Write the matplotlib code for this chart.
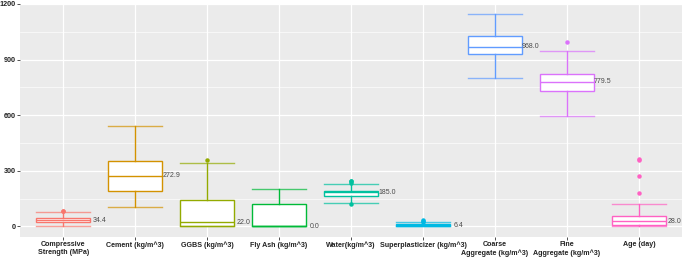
import matplotlib
matplotlib.use("Agg")
import matplotlib.pyplot as plt

categories = ["Compressive\nStrength (MPa)", "Cement (kg/m^3)", "GGBS (kg/m^3)",
              "Fly Ash (kg/m^3)", "Water(kg/m^3)", "Superplasticizer (kg/m^3)",
              "Coarse\nAggregate (kg/m^3)", "Fine\nAggregate (kg/m^3)", "Age (day)"]
whislo = [2.33, 102.0, 0.0, 0.0, 126.6, 0.0, 801.0, 594.0, 1.0]
q1 = [23.7, 192.4, 0.0, 0.0, 164.9, 0.0, 932.0, 730.95, 7.0]
med = [34.4, 272.9, 22.0, 0.0, 185.0, 6.4, 968.0, 779.5, 28.0]
q3 = [46.1, 350.0, 142.95, 118.3, 192.0, 10.2, 1029.4, 824.0, 56.0]
whishi = [80.0, 540.0, 342.1, 200.1, 228.0, 23.4, 1145.0, 945.0, 120.0]
fliers = [[81.8, 82.6], [], [359.4], [], [121.8, 236.7, 246.9, 247.0],
          [25.0, 28.2, 32.2], [], [992.6], [180.0, 270.0, 360.0, 365.0]]
colors = ["#F8766D", "#D39200", "#93AA00", "#00BA38", "#00C19F", "#00B9E3",
          "#619CFF", "#DB72FB", "#FF61C3"]
yticks = [0, 300, 600, 900, 1200]

fig = plt.figure(figsize=(6.85, 2.57), dpi=100)
ax = fig.add_axes([20/685, 20/257, 662/685, 233.5/257])
ax.set_facecolor("#EBEBEB")

positions = list(range(1, len(categories) + 1))
for i, p in enumerate(positions):
    st = [dict(whislo=whislo[i], q1=q1[i], med=med[i], q3=q3[i],
               whishi=whishi[i], fliers=fliers[i])]
    c = colors[i]
    ax.bxp(st, positions=[p], widths=0.75, patch_artist=True, showfliers=True,
           boxprops=dict(facecolor="white", edgecolor=c, linewidth=1.0),
           medianprops=dict(color=c, linewidth=1.0),
           whiskerprops=dict(color=c, linewidth=1.0),
           capprops=dict(color=c, linewidth=1.0, alpha=0.7),
           capwidths=0.75,
           flierprops=dict(marker="o", markersize=2.2, markerfacecolor=c,
                           markeredgecolor=c, linestyle="none"),
           zorder=3)
    ax.text(p + 0.5, med[i], f"{med[i]:.1f}", fontsize=5.0, color="#4A4A4A",
            family="Liberation Sans", ha="center", va="center", zorder=4)

ax.set_xlim(0.4, 9.6)
ax.set_ylim(-57.25, 1202.25)
ax.set_yticks(yticks)
ax.set_yticklabels([str(v) for v in yticks])
ax.set_yticks([150, 450, 750, 1050], minor=True)
ax.set_xticks(positions)
ax.set_xticklabels(categories, multialignment="center")
ax.grid(True, which="major", color="white", linewidth=0.9, zorder=0)
ax.grid(True, which="minor", axis="y", color="white", linewidth=0.45, zorder=0)
ax.set_axisbelow(True)
for s in ax.spines.values():
    s.set_visible(False)
ax.tick_params(axis="both", which="major", length=2.0, width=0.6, color="#333333",
               pad=1.0)
ax.tick_params(axis="y", which="minor", length=0)
for lab in ax.get_xticklabels():
    lab.set_fontweight("bold")
    lab.set_fontfamily("Liberation Sans")
    lab.set_fontsize(5.1)
    lab.set_color("#222222")
for lab in ax.get_yticklabels():
    lab.set_fontweight("bold")
    lab.set_fontfamily("Liberation Sans")
    lab.set_fontsize(5.2)
    lab.set_color("#222222")

fig.savefig("out.png", dpi=100)
